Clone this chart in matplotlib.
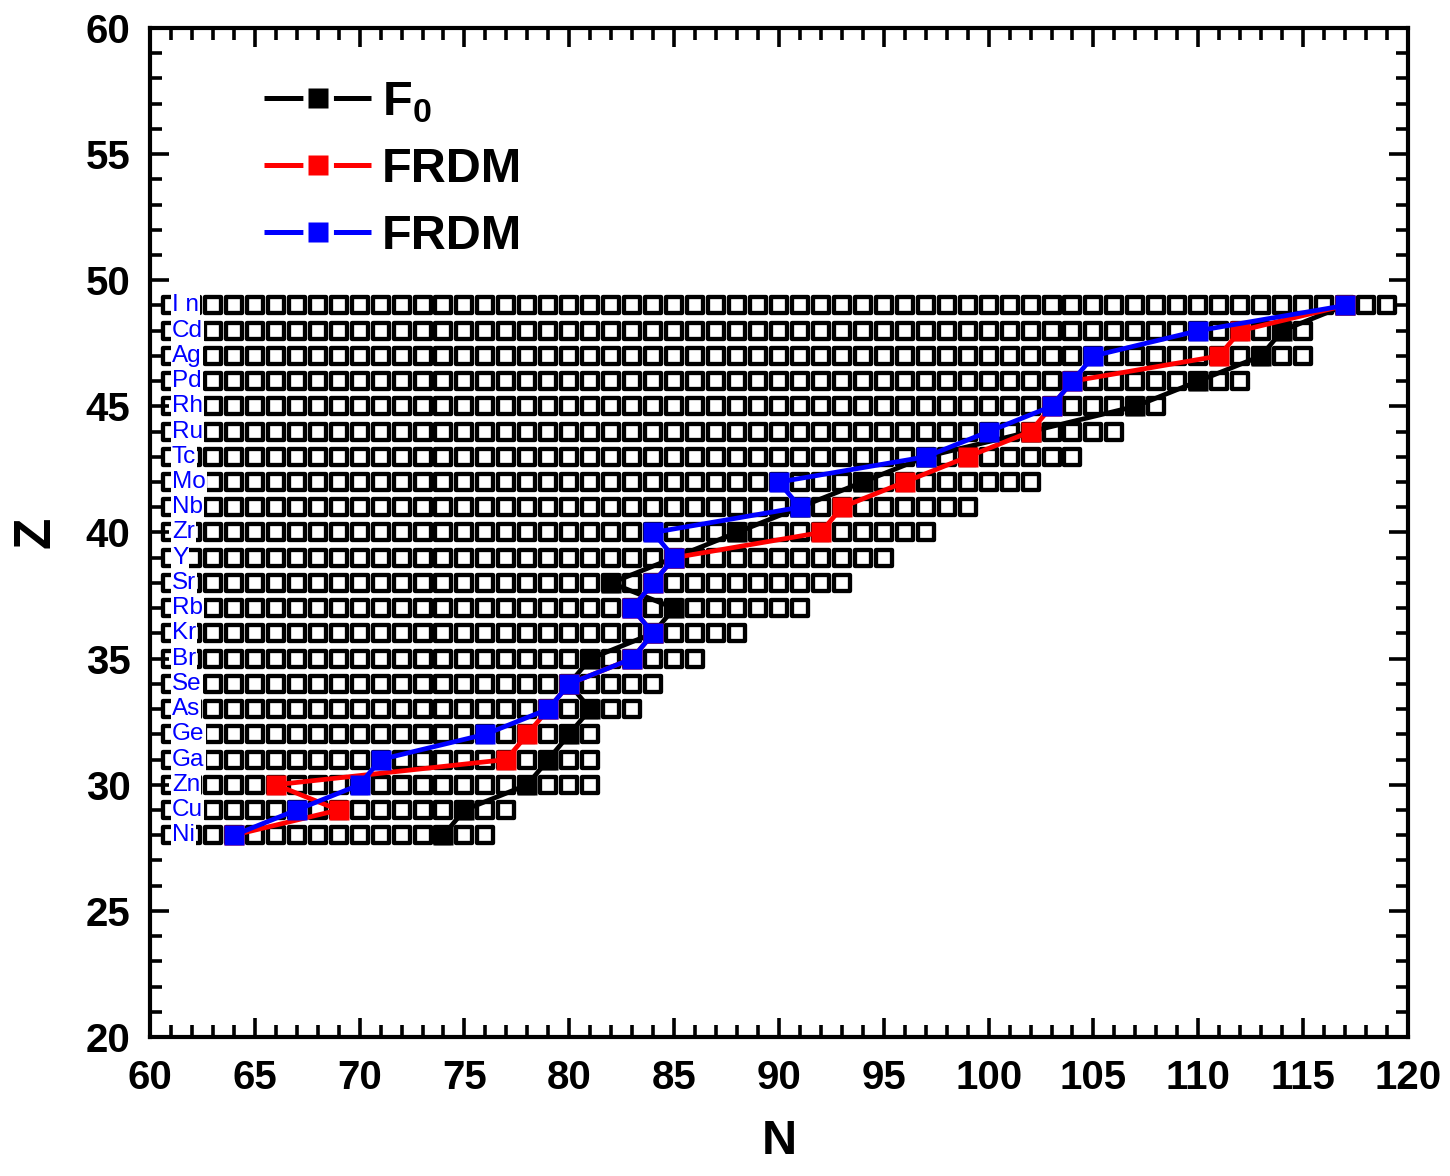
import matplotlib
matplotlib.use('Agg')
import matplotlib.pyplot as plt
from matplotlib.lines import Line2D
from matplotlib.ticker import MultipleLocator

plt.rcParams['font.family'] = ['Liberation Sans', 'DejaVu Sans']
plt.rcParams['mathtext.fontset'] = 'custom'
plt.rcParams['mathtext.rm'] = 'Liberation Sans:bold'
plt.rcParams['mathtext.bf'] = 'Liberation Sans:bold'
plt.rcParams['mathtext.it'] = 'Liberation Sans:bold'
plt.rcParams['lines.scale_dashes'] = False

# ---------------- data ----------------
elements = ['Ni', 'Cu', 'Zn', 'Ga', 'Ge', 'As', 'Se', 'Br', 'Kr', 'Rb', 'Sr',
            'Y', 'Zr', 'Nb', 'Mo', 'Tc', 'Ru', 'Rh', 'Pd', 'Ag', 'Cd', 'I n']
Z_values = [28, 29, 30, 31, 32, 33, 34, 35, 36, 37, 38,
            39, 40, 41, 42, 43, 44, 45, 46, 47, 48, 49]
row_start_N = 61
row_end_N = [76, 77, 81, 81, 81, 83, 84, 86, 88, 91, 93,
             95, 97, 99, 102, 104, 106, 108, 112, 115, 115, 119]

F0_N = [74, 75, 78, 79, 80, 81, 80, 81, 84, 85, 82,
        85, 88, 91, 94, 97, 102, 107, 110, 113, 114, 117]
FRDM_red_N = [64, 69, 66, 77, 78, 79, 80, 83, 84, 83, 84,
              85, 92, 93, 96, 99, 102, 103, 104, 111, 112, 117]
FRDM_blue_N = [64, 67, 70, 71, 76, 79, 80, 83, 84, 83, 84,
               85, 84, 91, 90, 97, 100, 103, 104, 105, 110, 117]

series_labels = [r'$\mathbf{F_0}$', 'FRDM', 'FRDM']
series_colors = ['black', 'red', 'blue']

# ---------------- figure ----------------
fig = plt.figure(figsize=(14.5, 11.76), dpi=100)
ax = fig.add_axes([0.1034, 0.1182, 0.8676, 0.858])

# nuclide grid (open squares)
grid_N = [n for z, end in zip(Z_values, row_end_N) for n in range(row_start_N, end + 1)]
grid_Z = [z for z, end in zip(Z_values, row_end_N) for n in range(row_start_N, end + 1)]
ax.scatter(grid_N, grid_Z, marker='s', s=11.4 ** 2, facecolor='white',
           edgecolor='black', linewidths=3.1, zorder=1, clip_on=True)

# paths
for i, (ns, col) in enumerate(zip([F0_N, FRDM_red_N, FRDM_blue_N], series_colors)):
    ax.plot(ns, Z_values, '-', color=col, lw=3.4, marker='s', ms=14.2,
            mec='none', mfc=col, zorder=3 + i)

# element labels
for z, el in zip(Z_values, elements):
    ax.text(61.05, z, el, ha='left', va='center', color='blue', fontsize=17.5,
            zorder=6, bbox=dict(facecolor='white', edgecolor='none', pad=0.8))

# legend
handles = []
for col in series_colors:
    ln = Line2D([], [], color=col, lw=3.6, solid_capstyle='butt',
                dash_capstyle='butt', linestyle=(0, (28, 22, 29, 200)))
    mk = Line2D([], [], color=col, lw=0, marker='s', ms=14.2, mec='none')
    handles.append((ln, mk))
leg = ax.legend(handles, series_labels, loc='upper left',
                bbox_to_anchor=(0.091, 0.948), frameon=False,
                prop={'weight': 'bold', 'size': 35}, handlelength=2.2,
                handletextpad=0.22, labelspacing=0.45, borderpad=0,
                borderaxespad=0)

# axes
ax.set_xlim(60, 120)
ax.set_ylim(20, 60)
ax.xaxis.set_major_locator(MultipleLocator(5))
ax.xaxis.set_minor_locator(MultipleLocator(1))
ax.yaxis.set_major_locator(MultipleLocator(5))
ax.yaxis.set_minor_locator(MultipleLocator(1))
ax.tick_params(which='both', direction='in', top=True, right=True, width=2.6)
ax.tick_params(which='major', length=14)
ax.tick_params(which='minor', length=8.5)
ax.tick_params(axis='x', which='major', pad=16)
ax.tick_params(axis='y', which='major', pad=14)
for lab in ax.get_xticklabels() + ax.get_yticklabels():
    lab.set_fontsize(29)
    lab.set_fontweight('bold')
for sp in ax.spines.values():
    sp.set_linewidth(3)

ax.set_xlabel('N', fontsize=35, fontweight='bold', labelpad=16)
ax.set_ylabel('Z', fontsize=37, fontweight='bold', labelpad=18)

fig.savefig('out.png', dpi=100)
